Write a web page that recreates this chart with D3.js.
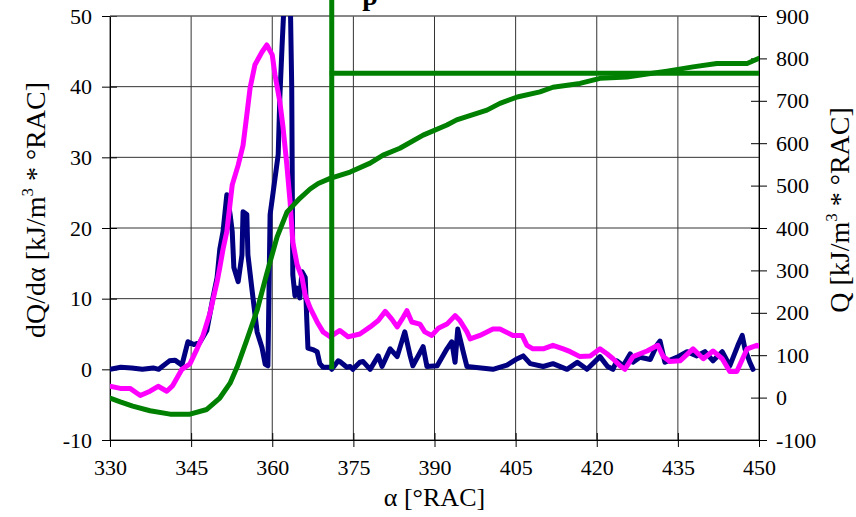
<!DOCTYPE html>
<html>
<head>
<meta charset="utf-8">
<script src="https://cdn.jsdelivr.net/npm/d3@7"></script>
<style>
  body { margin: 0; background: #fff; }
  svg, svg text { font-family: "Liberation Serif", "DejaVu Serif", serif; }
</style>
</head>
<body>
<svg id="chart" width="856" height="517"></svg>
<script>
// dQ/dα measured (navy)
const rateAlpha = [330, 332, 334, 336, 338, 339, 341, 342, 343.3, 344.4, 345.5, 346.6, 347.9, 349, 349.8, 350.3, 350.9, 351.6, 352.2, 352.6, 352.9, 353.7, 354.4, 354.6, 355.3, 355.5, 356.3, 357.2, 358.1, 358.7, 359.2, 359.6, 360.1, 361.1, 361.4, 361.8, 362.2, 362.8, 363.3, 363.6, 363.8, 364.2, 364.6, 365.1, 365.5, 366.1, 366.4, 366.6, 367.5, 368.3, 368.8, 369.4, 370.7, 371, 372.2, 372.5, 373.8, 374.4, 374.9, 376.2, 376.8, 378.1, 379.6, 380.3, 381.8, 383.1, 384.5, 385.5, 386, 387.9, 388.6, 390.5, 392.3, 393.2, 393.8, 394.3, 395.3, 396, 400.8, 403.4, 405.3, 406.4, 407.7, 410.1, 411.9, 414.5, 416.4, 418.2, 420.6, 422, 423, 423.7, 424.9, 426.2, 426.7, 428, 429.9, 431.1, 431.7, 432.6, 434.8, 436.7, 438.5, 440, 441.5, 443.2, 444.6, 446.1, 446.9, 447.4, 448.3, 448.9]
const rateMeas = [0, 0.3, 0.2, 0, 0.2, 0, 1.2, 1.3, 0.6, 3.9, 3.5, 3.8, 5.5, 10, 13, 17, 19.5, 24.7, 22, 19.5, 14.4, 12.4, 16.2, 22.3, 21.9, 16.2, 11, 5.3, 3.1, 0.7, 0.5, 21.9, 24.7, 30.4, 38.4, 45.5, 52, 58, 54, 40, 13.4, 10.4, 11.5, 10.1, 13.8, 13, 6.7, 3, 2.8, 2.5, 0.8, 0.3, 0.3, 0, 1.2, 1.1, 0.3, 0.4, 0, 1, 1.1, 0, 1.9, 0.4, 2.9, 1.8, 5.3, 1.9, 0.5, 3.2, 0.4, 0.5, 2.9, 3.9, 1, 5.7, 2.5, 0.4, 0, 0.6, 1.5, 1.9, 0.8, 0.4, 0.8, 0, 1, 0, 1.8, 0.4, 0, 1.2, 0.5, 2.2, 1, 1.7, 1.4, 3.4, 4, 1, 1.7, 2.5, 1.9, 2.5, 1.2, 2.5, 0.5, 3.4, 4.8, 2.9, 1, 0]

// dQ/dα computed (magenta)
const calcAlpha = [330, 331.9, 333.7, 335.6, 337.4, 338.9, 340.5, 341.6, 343.3, 344.8, 346.1, 347.2, 348.5, 349.8, 350.3, 350.9, 351.6, 352.6, 353.7, 354.6, 355.3, 355.9, 356.8, 358.1, 359, 360, 360.5, 361.4, 362, 362.7, 363.3, 363.8, 364.6, 365.5, 366.1, 367, 368.3, 369.4, 370.7, 372.5, 374, 376.2, 378.1, 379.6, 380.9, 382.1, 383.1, 384, 384.9, 385.8, 387.3, 388.2, 389.5, 390.7, 392.3, 393.8, 394.7, 396, 396.6, 398.4, 400.8, 402.1, 404.5, 406.2, 407.1, 408.2, 410.1, 411.9, 413.8, 415.1, 416.9, 418.8, 420.6, 421.9, 423, 424.3, 425.2, 426.7, 429.3, 431.3, 432.3, 433.5, 435.4, 437.8, 439.7, 441.5, 443.2, 444.6, 445.9, 447.8, 449.6, 450]
const rateCalc = [-2.4, -2.7, -2.7, -3.7, -3.1, -2.4, -3.1, -2.3, 0, 0.8, 2.9, 4.8, 8, 12.4, 14.4, 17, 19.5, 26.1, 28.9, 31.7, 36, 39.8, 43.1, 44.9, 45.9, 44.5, 41.7, 37.9, 34.2, 28.9, 23.7, 18, 14.8, 13, 10.5, 8.7, 6.7, 5.3, 4.6, 5.5, 4.6, 5, 6, 6.9, 8.2, 7.1, 6, 7.1, 8.3, 6.7, 6.4, 5.3, 4.8, 5.8, 6.4, 7.6, 6.9, 5.3, 4.3, 4.8, 5.7, 5.7, 4.8, 4.8, 3.4, 2.9, 2.9, 3.4, 2.9, 2.5, 1.8, 1.9, 2.9, 2.2, 1.5, 0.5, 0, 1.8, 2.6, 3.4, 1.8, 1.1, 1.2, 2.9, 1.5, 2.6, 1.5, -0.3, -0.3, 2.9, 3.4, 3.3]

// Q cumulative (green, right axis)
const heatAlpha = [330, 331.9, 334.2, 337.4, 341.1, 344.8, 347.9, 350.3, 352.2, 353.5, 355.3, 357.2, 359, 360.9, 362.7, 364, 365.1, 367, 368.5, 370.7, 374.4, 378.1, 380.5, 383.6, 387.9, 392.3, 394.1, 399.7, 402.1, 405.3, 409.5, 411.9, 416.9, 420.6, 425.6, 429.3, 433, 437.8, 442.2, 447.8, 450]
const heatQ = [-1, -10, -20, -31, -39, -39, -28, -1, 34, 72, 136, 206, 293, 379, 437, 455, 470, 492, 505, 517, 532, 553, 572, 588, 619, 643, 655, 678, 694, 709, 721, 732, 741, 753, 756, 763, 770, 780, 788, 788, 800]

// marker (end of combustion)
const markerAlpha = 371
const markerQ = 765

const xTicks = [330, 345, 360, 375, 390, 405, 420, 435, 450]
const yLeftTicks = [-10, 0, 10, 20, 30, 40, 50]
const yRightTicks = [-100, 0, 100, 200, 300, 400, 500, 600, 700, 800, 900]

const margin = { top: 16, right: 97, bottom: 77, left: 110 }
const width = 856 - margin.left - margin.right
const height = 517 - margin.top - margin.bottom
const tickFont = 22

const svg = d3.select("#chart")
const g = svg.append("g").attr("transform", `translate(${margin.left},${margin.top})`)

const x = d3.scaleLinear().domain([330, 450]).range([0, width])
const yL = d3.scaleLinear().domain([-10, 50]).range([height, 0])
const yR = d3.scaleLinear().domain([-100, 900]).range([height, 0])

svg.append("defs").append("clipPath").attr("id", "plot-clip")
  .append("rect").attr("width", width).attr("height", height)

// gitter
g.append("g").selectAll("line").data(xTicks).join("line")
  .attr("x1", (d) => x(d)).attr("x2", (d) => x(d))
  .attr("y1", 0).attr("y2", height)
  .attr("stroke", "#333").attr("stroke-width", 1)
g.append("g").selectAll("line").data(yLeftTicks).join("line")
  .attr("x1", 0).attr("x2", width)
  .attr("y1", (d) => yL(d)).attr("y2", (d) => yL(d))
  .attr("stroke", "#333").attr("stroke-width", 1)

// achsen
const plain = (d) => String(d)
const xAxis = g.append("g").attr("transform", `translate(0,${height})`)
  .call(d3.axisBottom(x).tickValues(xTicks).tickFormat(plain).tickSizeInner(7).tickSizeOuter(0).tickPadding(12))
const leftAxis = g.append("g")
  .call(d3.axisLeft(yL).tickValues(yLeftTicks).tickFormat(plain).tickSizeInner(8).tickSizeOuter(0).tickPadding(10))
const rightAxis = g.append("g").attr("transform", `translate(${width},0)`)
  .call(d3.axisRight(yR).tickValues(yRightTicks).tickFormat(plain).tickSizeInner(8).tickSizeOuter(0).tickPadding(9))

// ticks auf beiden Seiten der Achse
xAxis.selectAll(".tick line").attr("y1", -7)
leftAxis.selectAll(".tick line").attr("x1", 7)
rightAxis.selectAll(".tick line").attr("x1", -8)

for (const ax of [xAxis, leftAxis, rightAxis]) {
  ax.attr("font-family", null).attr("font-size", null)
  ax.selectAll("text").style("font-size", tickFont + "px").attr("fill", "#000")
  ax.selectAll("line").attr("stroke", "#000")
  ax.select(".domain").attr("stroke", "#000")
}
g.append("line").attr("x1", 0).attr("x2", width).attr("y1", 0).attr("y2", 0)
  .attr("stroke", "#777")

// kurven
const plot = g.append("g").attr("clip-path", "url(#plot-clip)")

const lineLeft = d3.line().x((d) => x(d[0])).y((d) => yL(d[1]))
const lineRight = d3.line().x((d) => x(d[0])).y((d) => yR(d[1]))

function drawLine(data, gen, color) {
  plot.append("path").datum(data)
    .attr("d", gen)
    .attr("fill", "none")
    .attr("stroke", color)
    .attr("stroke-width", 5)
    .attr("stroke-linejoin", "round")
    .attr("stroke-linecap", "round")
}

drawLine(rateAlpha.map((a, i) => [a, rateMeas[i]]), lineLeft, "#000080")
drawLine(calcAlpha.map((a, i) => [a, rateCalc[i]]), lineLeft, "#ff00ff")
drawLine(heatAlpha.map((a, i) => [a, heatQ[i]]), lineRight, "#008000")

// markierung Brennende
g.append("line")
  .attr("x1", x(markerAlpha)).attr("x2", x(markerAlpha))
  .attr("y1", yL(0)).attr("y2", -margin.top)
  .attr("stroke", "#008000").attr("stroke-width", 5)
g.append("line")
  .attr("x1", x(markerAlpha) - 2).attr("x2", width)
  .attr("y1", yR(markerQ)).attr("y2", yR(markerQ))
  .attr("stroke", "#008000").attr("stroke-width", 5)

// beschriftung
svg.append("text")
  .attr("x", 370).attr("y", 5)
  .attr("text-anchor", "middle")
  .style("font-size", "28px").attr("font-weight", "bold")
  .text("p")

svg.append("text")
  .attr("x", margin.left + width / 2).attr("y", 506)
  .attr("text-anchor", "middle")
  .style("font-size", "26px")
  .text("α [°RAC]")

function yTitle(xPos, prefix) {
  const t = svg.append("text")
    .attr("transform", `translate(${xPos},210) rotate(-90)`)
    .attr("text-anchor", "middle")
    .style("font-size", "28px")
  t.append("tspan").text(prefix + " [kJ/m")
  t.append("tspan").style("font-size", "17px").attr("dy", -12).text("3")
  t.append("tspan").attr("dy", 12).text(" * °RAC]")
}
yTitle(45, "dQ/dα")
yTitle(849, "Q")
</script>
</body>
</html>
